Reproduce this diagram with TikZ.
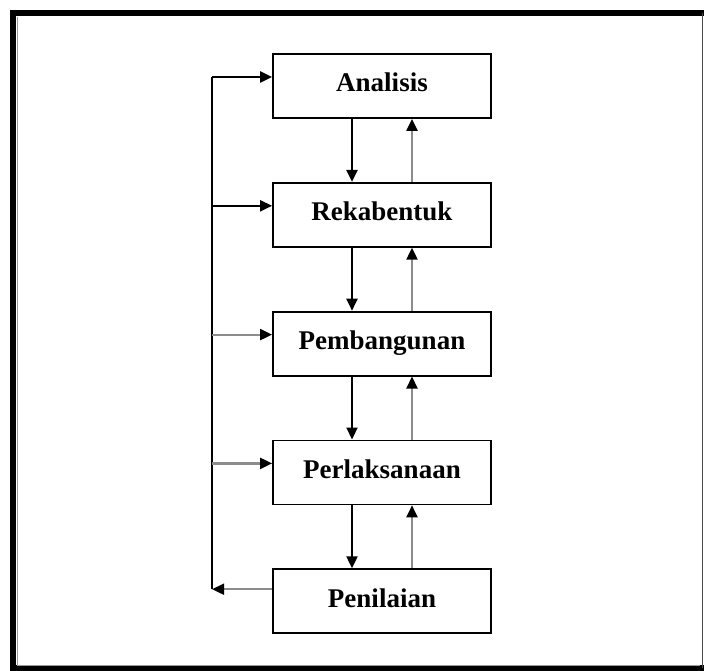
\documentclass[tikz,border=0pt]{standalone}
\usepackage{fontspec}
\setmainfont{Liberation Serif}
\usetikzlibrary{arrows.meta}
\usetikzlibrary{positioning}
\tikzset{%
    stage/.style={draw, line width=1.8pt, minimum width=218pt, minimum height=64pt,
        inner sep=0pt, text height=19pt, text depth=7pt,
        font=\fontsize{27}{32}\selectfont\bfseries},
    flow/.style={line width=2.2pt, -{Triangle[length=12pt,width=11pt,color=black]}},
    greyline/.style={draw=black!45},
}

\begin{document}
\begin{tikzpicture}[x=1pt,y=-1pt,node distance=63pt]
\useasboundingbox (0,0) rectangle (704,671);
% frame
\draw [line width=6pt] (13,671) -- (13,13) -- (704,13);
\draw [line width=6pt] (10,668) -- (704,668);
\draw [line width=1.5pt, black!70] (702.5,13) -- (702.5,668);
\draw [line width=0.6pt, black!40] (17,17) -- (17,665) -- (700,665);
% stages
\node (a) [stage] at (382,86) {Analisis};
\node (r) [stage, below=of a] {Rekabentuk};
\node (b) [stage, below=of r] {Pembangunan};
\node (l) [stage, below=of b] {Perlaksanaan};
\node (n) [stage, below=of l] {Penilaian};
% down and back up
\foreach \s/\t in {a/r,r/b,b/l,l/n} {
    \draw [flow] ([xshift=-30pt]\s.south) -- ([xshift=-30pt]\t.north);
    \draw [flow, greyline] ([xshift=30pt]\t.north) -- ([xshift=30pt]\s.south);
}
% return line on the left
\draw [line width=2.2pt] ([xshift=-60pt,yshift=9pt]a.west) -- ([xshift=-60pt,yshift=12pt]n.west);
\foreach \s/\c in {a/black,r/black,b/black!45,l/black!45}
    \draw [flow, draw=\c] ([xshift=-60pt,yshift=9pt]\s.west) -- ([yshift=9pt]\s.west);
\draw [flow, greyline] ([yshift=12pt]n.west) -- ([xshift=-60pt,yshift=12pt]n.west);
\end{tikzpicture}
\end{document}
